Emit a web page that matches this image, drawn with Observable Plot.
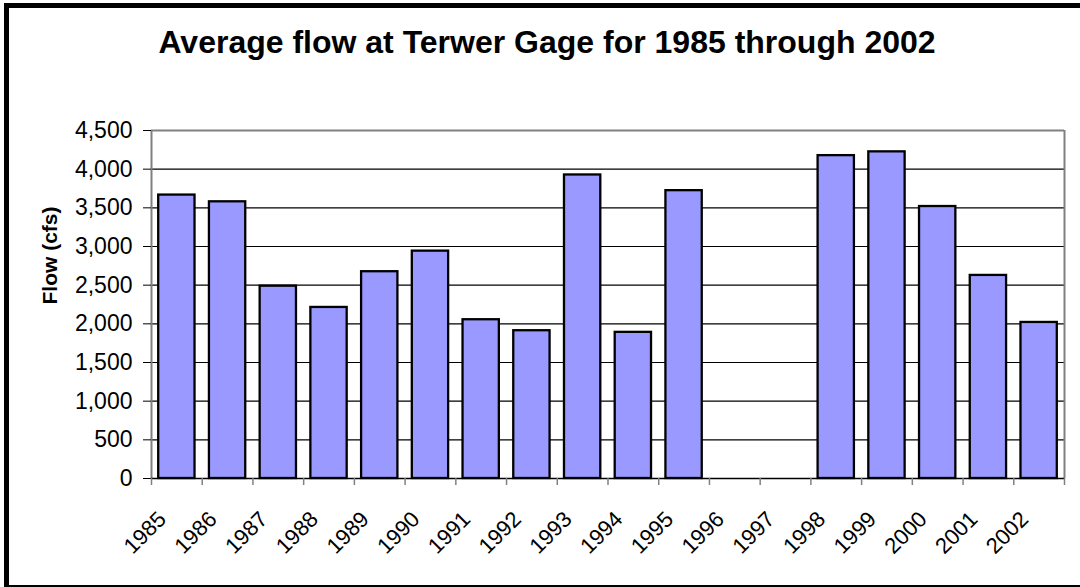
<!DOCTYPE html>
<html><head><meta charset="utf-8">
<script src="https://cdn.jsdelivr.net/npm/d3@7"></script>
<script src="https://cdn.jsdelivr.net/npm/@observablehq/plot@0.6"></script>
<style>
body{margin:0;background:#fff;}
#wrap{position:relative;width:1080px;height:587px;overflow:hidden;font-family:"Liberation Sans",Arial,sans-serif;background:#fff;}
#frame{position:absolute;left:4px;top:3px;width:1200px;height:587px;border:5px solid #000;box-sizing:border-box;pointer-events:none;}
#title{height:110px;box-sizing:border-box;padding-top:24px;padding-left:14px;line-height:37px;font-size:32px;font-weight:bold;text-align:center;color:#000;}
#chart svg{display:block;}
</style>
</head><body>
<div id="wrap">
<div id="title">Average flow at Terwer Gage for 1985 through 2002</div>
<div id="chart"></div>
<div id="frame"></div>
</div>
<script>
const years = ["1985","1986","1987","1988","1989","1990","1991","1992","1993","1994","1995","1996","1997","1998","1999","2000","2001","2002"];
const flows = [3665, 3578, 2487, 2212, 2674, 2940, 2053, 1911, 3925, 1890, 3722, null, null, 4175, 4224, 3517, 2626, 2018];
const yTicks = [0, 500, 1000, 1500, 2000, 2500, 3000, 3500, 4000, 4500];
const yLabel = "Flow (cfs)";

const data = years.map((year, i) => ({year, i, flow: flows[i]}));
const bars = data.filter(d => d.flow != null);
const bounds = d3.range(0, years.length + 1);
const gap = 0.142;

const plot = Plot.plot({
  width: 1080,
  height: 477,
  marginTop: 20,
  marginBottom: 109,
  marginLeft: 151,
  marginRight: 16,
  style: {fontFamily: '"Liberation Sans", Arial, sans-serif', background: "transparent", color: "#000"},
  x: {type: "linear", domain: [0, years.length], axis: null},
  y: {domain: [0, 4500], axis: null},
  marks: [
    Plot.ruleY(yTicks.filter(t => t > 0 && t < 4500), {stroke: "#000", strokeWidth: 1.2}),
    Plot.ruleY([4500], {stroke: "#808080", strokeWidth: 2}),
    Plot.ruleX([years.length], {stroke: "#808080", strokeWidth: 2}),
    Plot.rectY(bars, {x1: d => d.i + gap, x2: d => d.i + 1 - gap, y: "flow", fill: "#9999FF", stroke: "#000", strokeWidth: 2.3}),
    Plot.ruleX([0], {stroke: "#808080", strokeWidth: 2}),
    Plot.ruleY([0], {stroke: "#000", strokeWidth: 1.5}),
    Plot.axisY({ticks: yTicks, tickFormat: d3.format(","), tickSize: 8, tickPadding: 11, fontSize: 23, label: null, stroke: "#000"}),
    Plot.axisX({ticks: bounds, tickFormat: () => "", tickSize: 7, label: null, stroke: "#808080", strokeWidth: 1.5}),
    Plot.text(data, {x: d => d.i + 0.5, text: "year", frameAnchor: "bottom", rotate: -45, textAnchor: "end", lineAnchor: "bottom", dx: -9.5, dy: 42, fontSize: 22, fill: "#000"}),
    Plot.text([yLabel], {text: d => d, frameAnchor: "left", rotate: -90, dx: -101, fontSize: 21, fontWeight: "bold", fill: "#000"})
  ]
});
document.getElementById("chart").appendChild(plot);
</script>
</body></html>
